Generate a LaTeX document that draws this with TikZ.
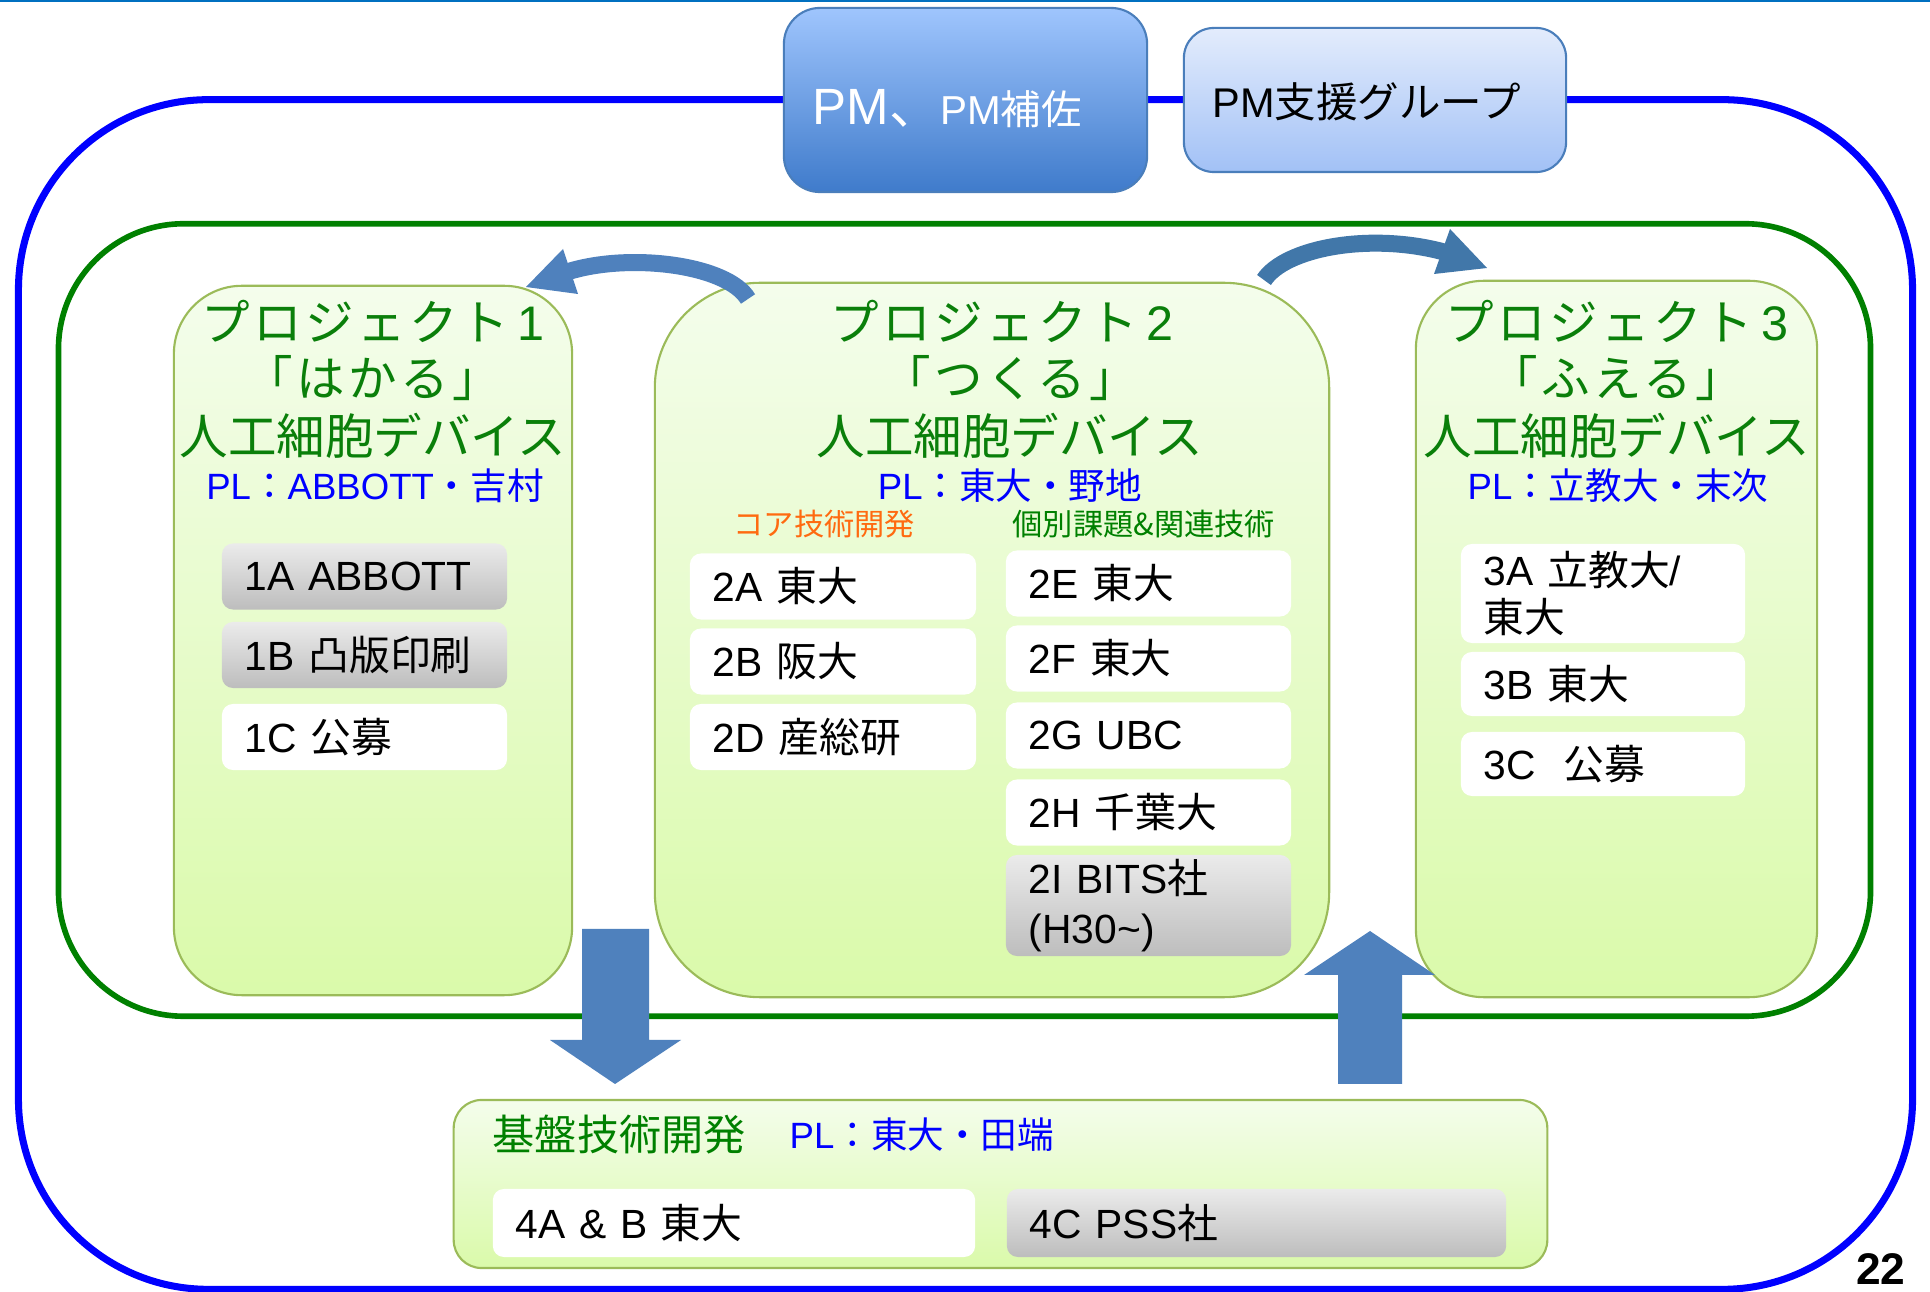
\documentclass[tikz,border=0pt]{standalone}
\usepackage{fontspec}
\setmainfont{Liberation Sans}
\newfontfamily\jp{Noto Sans CJK JP}
\newfontfamily\jpls{Noto Sans CJK JP}[LetterSpace=7]
\definecolor{topblue}{HTML}{0070C0}
\definecolor{frameblue}{HTML}{0000FF}
\definecolor{framegreen}{HTML}{008000}
\definecolor{projborder}{HTML}{9BBB59}
\definecolor{projtop}{HTML}{F4FDEC}
\definecolor{projbot}{HTML}{DAFAAA}
\definecolor{greytop}{HTML}{EBEBEB}
\definecolor{greybot}{HTML}{BDBDBD}
\definecolor{pmtop}{HTML}{9FC5FD}
\definecolor{pmbot}{HTML}{3F7BCB}
\definecolor{pmborder}{HTML}{4A7EBB}
\definecolor{sptop}{HTML}{E3ECFC}
\definecolor{spbot}{HTML}{A2C1F6}
\definecolor{arrowblue}{HTML}{4F81BD}
\definecolor{arrowdark}{HTML}{4177A9}
\definecolor{titlegreen}{HTML}{0A7F0A}
\definecolor{plblue}{HTML}{0000FF}
\definecolor{coreorange}{HTML}{FF6A10}
\newcommand{\itemfont}{\fontsize{11.6}{13.6}\selectfont}
\newcommand{\titlefont}{\fontsize{13.8}{16}\selectfont}
\newcommand{\plfont}{\fontsize{10.4}{12}\selectfont}
\begin{document}
\begin{tikzpicture}[x=0.01cm, y=-0.01cm,
  bluebox/.style={draw=frameblue, line width=2pt, rounded corners=1.9cm, minimum width=18.93cm, minimum height=11.89cm, inner sep=0pt},
  greenbox/.style={draw=framegreen, line width=1.6pt, rounded corners=1.25cm, minimum width=18.11cm, minimum height=7.92cm, inner sep=0pt},
  pmbox/.style={draw=pmborder, line width=0.6pt, top color=pmtop, bottom color=pmbot, rounded corners=0.36cm, minimum width=3.63cm, minimum height=1.84cm, inner sep=0pt},
  spbox/.style={draw=pmborder, line width=0.6pt, top color=sptop, bottom color=spbot, rounded corners=0.3cm, minimum width=3.82cm, minimum height=1.44cm, inner sep=0pt},
  projbox/.style={draw=projborder, line width=0.6pt, top color=projtop, bottom color=projbot, inner sep=0pt},
  titletext/.style={text=titlegreen, font=\titlefont, inner sep=0pt, anchor=base},
  pltext/.style={text=plblue, font=\plfont, inner sep=0pt, anchor=base},
  itembase/.style={rounded corners=0.11cm, inner xsep=0.23cm, inner ysep=0pt, align=left, font=\itemfont, minimum height=0.66cm, text width=#1},
  witem/.style={itembase=#1, fill=white},
  gitem/.style={itembase=#1, top color=greytop, bottom color=greybot},
  bigarrow/.style={fill=arrowblue},
  curvearrow/.style={line width=4.84pt}
]
\useasboundingbox (0,0) rectangle (1930,1292);
\fill[white] (0,0) rectangle (1930,1292);

% top thin line
\coordinate (tl) at (0,1);
\coordinate (tr) at (1930,1);
\draw[topblue, line width=0.6pt] (tl) -- (tr);

% frames
\node[bluebox] (outer) at (965.5,694.5) {};
\node[greenbox] (inner) at (964.5,620) {};

% PM boxes
\node[pmbox] (pm) at (965.5,100) {};
\node[anchor=base west, text=white, inner sep=0pt] (pmtext) at (812,125)
  {\fontsize{14.5}{16}\selectfont PM{\jp 、}\fontsize{11.5}{13}\selectfont PM{\jp 補佐}};
\node[spbox] (pms) at (1375,100) {};
\node[anchor=base west, inner sep=0pt] (pmstext) at (1212,118)
  {\fontsize{11.8}{14}\selectfont PM{\jp 支援グループ}};

% project boxes
\node[projbox, rounded corners=0.68cm, minimum width=3.98cm, minimum height=7.09cm] (p1) at (373,640.5) {};
\node[projbox, rounded corners=1.05cm, minimum width=6.74cm, minimum height=7.14cm] (p2) at (992,640) {};
\node[projbox, rounded corners=0.68cm, minimum width=4.01cm, minimum height=7.16cm] (p3) at (1616.5,639) {};

% project 1 texts
\node[titletext] (p1a) at (373,341) {{\jpls プロジェクト}\,1};
\node[titletext] (p1b) at (373,397) {{\jpls 「はかる」}};
\node[titletext] (p1c) at (373,455) {{\jp 人工細胞デバイス}};
\node[pltext] (p1pl) at (375,500) {PL{\jp ：}ABBOTT{\jp ・吉村}};
\node[gitem=2.39cm] (i1a) at (364.5,576.5) {1A ABBOTT};
\node[gitem=2.39cm] (i1b) at (364.5,655) {1B {\jp 凸版印刷}};
\node[witem=2.39cm] (i1c) at (364.5,737) {1C {\jp 公募}};

% project 2 texts
\node[titletext] (p2a) at (1002,341) {{\jpls プロジェクト}\,2};
\node[titletext] (p2b) at (1010,397) {{\jpls 「つくる」}};
\node[titletext] (p2c) at (1010,455) {{\jp 人工細胞デバイス}};
\node[pltext] (p2pl) at (1010,500) {PL{\jp ：東大・野地}};
\node[anchor=base west, inner sep=0pt, text=coreorange, font=\fontsize{8.6}{10}\selectfont] (core) at (733,536) {{\jp コア技術開発}};
\node[anchor=base west, inner sep=0pt, text=framegreen, font=\fontsize{8.6}{10}\selectfont] (indiv) at (1012,536) {{\jp 個別課題\&関連技術}};
\node[witem=2.40cm] (i2a) at (833,586.5) {2A {\jp 東大}};
\node[witem=2.40cm] (i2b) at (833,661.5) {2B {\jp 阪大}};
\node[witem=2.40cm] (i2d) at (833,737) {2D {\jp 産総研}};
\node[witem=2.39cm] (i2e) at (1148.5,583.5) {2E {\jp 東大}};
\node[witem=2.39cm] (i2f) at (1148.5,658.5) {2F {\jp 東大}};
\node[witem=2.39cm] (i2g) at (1148.5,735.5) {2G UBC};
\node[witem=2.39cm] (i2h) at (1148.5,812.5) {2H {\jp 千葉大}};
\node[gitem=2.39cm, minimum height=1.01cm, font=\fontsize{11.6}{14.3}\selectfont] (i2i) at (1148.5,905.5) {2I BITS{\jp 社}\\(H30\textasciitilde)};

% project 3 texts
\node[titletext] (p3a) at (1617,341) {{\jpls プロジェクト}\,3};
\node[titletext] (p3b) at (1617,397) {{\jpls 「ふえる」}};
\node[titletext] (p3c) at (1617,455) {{\jp 人工細胞デバイス}};
\node[pltext] (p3pl) at (1618,500) {PL{\jp ：立教大・末次}};
\node[witem=2.38cm, minimum height=0.99cm] (i3a) at (1603,593.5) {3A {\jp 立教大}/\\{\jp 東大}};
\node[witem=2.38cm, minimum height=0.64cm] (i3b) at (1603,684) {3B {\jp 東大}};
\node[witem=2.38cm, minimum height=0.64cm] (i3c) at (1603,764) {3C\ \ {\jp 公募}};

% base technology box
\node[projbox, rounded corners=0.28cm, minimum width=10.93cm, minimum height=1.68cm] (base) at (1000.5,1184) {};
\node[anchor=base west, inner sep=0pt, text=framegreen, font=\fontsize{12}{14}\selectfont] (basetitle) at (492,1150) {{\jp 基盤技術開発}};
\node[anchor=base west, inner sep=0pt, text=plblue, font=\plfont] (basepl) at (789,1149) {PL{\jp ：東大・田端}};
\node[witem=4.36cm, minimum height=0.68cm] (i4a) at (734,1223) {4A \& B {\jp 東大}};
\node[gitem=4.53cm, minimum height=0.68cm] (i4c) at (1256.5,1223) {4C PSS{\jp 社}};

% big block arrows
\fill[bigarrow] (582,929) -- (649,929) -- (649,1040) -- (681,1040) -- (615,1084) -- (550,1040) -- (582,1040) -- cycle;
\fill[bigarrow] (1338,1084) -- (1402,1084) -- (1402,975) -- (1435,975) -- (1370,931) -- (1304,975) -- (1338,975) -- cycle;

% curved arrows
\coordinate (c1s) at (748,299);
\coordinate (c1e) at (567,272);
\draw[arrowblue, curvearrow] (c1s) .. controls (728,265) and (630,252) .. (c1e);
\fill[arrowblue] (563,249) -- (526,287) -- (578,294) -- cycle;
\coordinate (c2s) at (1264,280);
\coordinate (c2e) at (1444,252);
\draw[arrowdark, curvearrow] (c2s) .. controls (1285,248) and (1370,232) .. (c2e);
\fill[arrowdark] (1450,229) -- (1487,268) -- (1434,274) -- cycle;

% page number
\node[anchor=base east, inner sep=0pt, font=\fontsize{12.6}{15}\selectfont\bfseries] (pageno) at (1906,1284) {22};
\end{tikzpicture}
\end{document}
